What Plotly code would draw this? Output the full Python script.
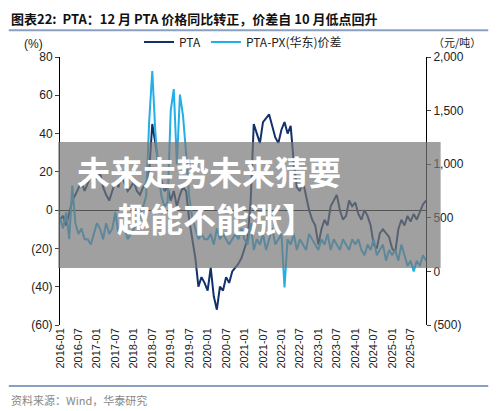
import plotly.graph_objects as go

months = [f"{y}-{m:02d}" for y in range(2016, 2026) for m in range(1, 13)]
pta = [-5,-3,-8,-2,5,8,12,15,10,14,18,20,
       16,20,12,8,5,10,15,12,18,14,10,12,
       15,10,8,12,14,20,45,35,25,15,10,12,
       5,10,2,8,12,10,-5,-15,-25,-40,-35,-38,
       -42,-30,-45,-52,-40,-42,-35,-38,-32,-30,-28,-25,
       -20,-15,5,45,40,35,46,48,50,44,38,35,
       42,46,40,44,25,12,10,15,8,0,-5,-8,
       -18,-10,-5,-8,2,5,8,0,-5,-3,5,2,
       4,-2,-5,0,-3,-8,-18,-20,-12,-10,-12,-14,
       -20,-22,-10,-5,-8,-3,-6,-2,-5,-1,3,5]
spread = [500,400,550,300,800,450,350,400,300,300,250,350,
          450,400,300,450,350,400,550,350,450,400,300,350,
          400,450,500,600,700,1400,1870,1300,900,700,600,650,
          1500,1700,1000,1650,1450,1100,700,500,400,300,350,300,
          300,350,250,400,300,350,300,250,300,350,300,400,
          300,250,450,200,300,250,350,200,300,400,250,300,
          350,-150,300,250,350,200,300,250,200,350,300,250,
          200,300,250,350,200,300,250,200,300,250,200,300,
          250,300,200,150,250,200,300,150,200,250,100,200,
          150,200,100,250,150,50,100,0,100,50,150,100]
xticks = months[::6]
left_ticks = [80, 60, 40, 20, 0, -20, -40, -60]
left_text = ["80", "60", "40", "20", "0", "(20)", "(40)", "(60)"]
right_ticks = [2000, 1500, 1000, 500, 0, -500]
right_text = ["2,000", "1,500", "1,000", "500", "0", "(500)"]

fig = go.Figure()
fig.add_trace(go.Scatter(x=months, y=pta, name="PTA", mode="lines",
                         line=dict(color="#12306a", width=2)))
fig.add_trace(go.Scatter(x=months, y=spread, name="PTA-PX(华东)价差", mode="lines",
                         line=dict(color="#22aee6", width=2), yaxis="y2"))
fig.update_layout(
    width=500, height=411, plot_bgcolor="white", paper_bgcolor="white",
    margin=dict(l=52, r=82, t=49, b=94, autoexpand=False),
    font=dict(family="Noto Sans CJK SC, Arial", size=12, color="#222"),
    showlegend=True,
    legend=dict(orientation="h", x=0.5, xanchor="center", y=1.056, yanchor="middle",
                font=dict(size=12), bgcolor="rgba(0,0,0,0)"),
    xaxis=dict(type="category", tickvals=xticks, ticktext=xticks, tickangle=-90, automargin=False,
               showgrid=False, showline=False, ticks="", tickfont=dict(size=11, family="Arial")),
    yaxis=dict(range=[-60, 80], tickvals=left_ticks, ticktext=left_text, showgrid=False,
               showline=True, linecolor="black", ticks="outside", ticklen=4, automargin=False,
               zeroline=True, zerolinecolor="black", zerolinewidth=1,
               tickfont=dict(family="Arial", size=12)),
    yaxis2=dict(range=[-500, 2000], tickvals=right_ticks, ticktext=right_text, overlaying="y",
                side="right", showgrid=False, showline=True, linecolor="black", automargin=False,
                ticks="outside", ticklen=4, zeroline=False, tickfont=dict(family="Arial", size=12)),
)
fig.add_shape(type="line", xref="paper", yref="paper", x0=-0.14, x1=1.17, y0=1.10, y1=1.10,
              line=dict(color="#8aa0c0", width=2))
fig.add_shape(type="line", xref="paper", yref="paper", x0=-0.14, x1=1.17, y0=-0.228, y1=-0.228,
              line=dict(color="#8aa0c0", width=2))
fig.add_annotation(text="<b>图表22:  PTA：12 月 PTA 价格同比转正，价差自 10 月低点回升</b>",
                   xref="paper", yref="paper", x=-0.14, y=1.145, xanchor="left", yanchor="middle",
                   showarrow=False, font=dict(size=13, color="#111"))
fig.add_annotation(text="(%)", xref="paper", yref="paper", x=-0.04, y=1.05, xanchor="right",
                   yanchor="middle", showarrow=False, font=dict(size=12, family="Arial"))
fig.add_annotation(text="（元/吨）", xref="paper", yref="paper", x=1.155, y=1.055, xanchor="right",
                   yanchor="middle", showarrow=False, font=dict(size=11))
fig.add_annotation(text="资料来源：Wind，华泰研究", xref="paper", yref="paper", x=-0.14, y=-0.28,
                   xanchor="left", yanchor="middle", showarrow=False, font=dict(size=11, color="#888"))
# watermark overlay
fig.add_shape(type="rect", xref="paper", yref="paper", x0=-0.005, x1=1.04, y0=0.213, y1=0.683,
              fillcolor="rgba(120,120,120,0.7)", line=dict(width=0), layer="above")
fig.add_annotation(text="<b>未来走势未来猜要</b>", xref="paper", yref="paper", x=0.04, y=0.575,
                   xanchor="left", showarrow=False, font=dict(size=33, color="white"))
fig.add_annotation(text="<b>趣能不能涨】</b>", xref="paper", yref="paper", x=0.15, y=0.40,
                   xanchor="left", showarrow=False, font=dict(size=33, color="white"))
fig.write_html("out.html")
